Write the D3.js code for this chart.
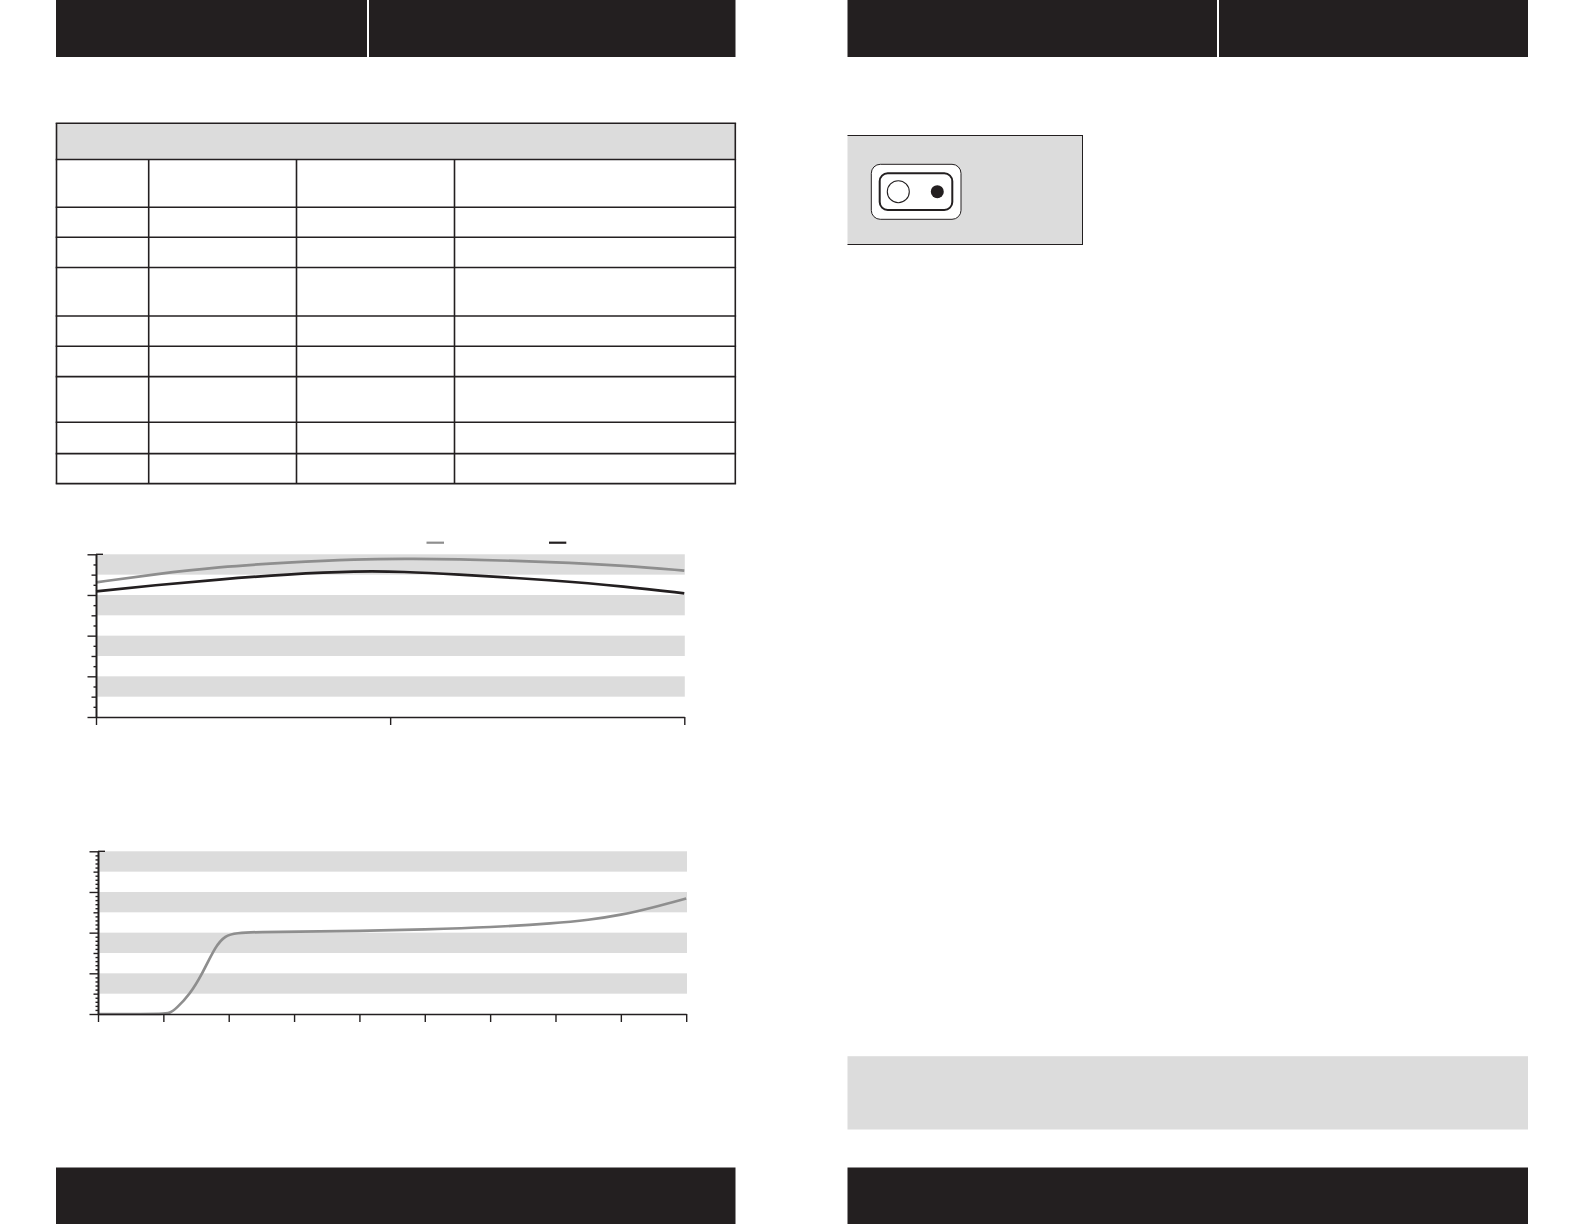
<!DOCTYPE html>
<html>
<head>
<meta charset="utf-8">
<title>Chart</title>
<script src="https://cdnjs.cloudflare.com/ajax/libs/d3/7.8.5/d3.min.js"></script>
<style>
	html, body { margin: 0; padding: 0; background: #fff; }
	svg { display: block; }
	.axis path, .axis line { stroke: #231f20; stroke-width: 1.4; }
	.curve { fill: none; stroke-width: 2.7; stroke-linejoin: round; }
</style>
</head>
<body>
<svg id="page" width="1584" height="1224"></svg>
<script>
// upper chart
const topX = [0, 0.2, 0.415, 0.65, 0.89, 1.05, 1.2, 1.56, 1.8, 2];
const topGrey = [33.1, 35.1, 36.9, 38, 38.8, 38.9, 38.9, 38.1, 37.2, 36];
const topBlack = [30.9, 32.4, 33.8, 35.1, 35.9, 35.7, 35.2, 33.6, 32.1, 30.4];
const topXTicks = [0, 1, 2];

// lower chart
const lowX = [0, 0.5, 1, 1.1, 1.2, 1.4, 1.6, 1.8, 1.95, 2.1, 2.5, 3, 4, 5, 6, 7, 7.5, 8, 8.5, 9];
const lowGrey = [0, 0, 0, 0.2, 1.4, 4.7, 10, 16.8, 19.3, 19.9, 20.2, 20.2, 20.4, 20.8, 21.3, 22.3, 23.1, 24.3, 26.2, 28.4];
const lowXTicks = [0, 1, 2, 3, 4, 5, 6, 7, 8, 9];

// shared y axis
const yMajor = [0, 10, 20, 30, 40];
const yMiddle = [5, 15, 25, 35];
const topYMinor = [2.5, 7.5, 12.5, 17.5, 22.5, 27.5, 32.5, 37.5];
const lowYMinor = d3.range(0, 41).filter(v => v % 5 !== 0);
const bands = [[5, 10], [15, 20], [25, 30], [35, 40]];

const dark = '#231f20';
const grey = '#8e8e8e';
const panel = '#dcdcdc';

const svg = d3.select('#page');

function box(x0, y0, x1, y1, fill) {
	return svg.append('rect')
		.attr('x', x0)
		.attr('y', y0)
		.attr('width', x1 - x0)
		.attr('height', y1 - y0)
		.attr('fill', fill);
}

function rule(x0, y0, x1, y1, width, color = dark) {
	svg.append('line')
		.attr('x1', x0).attr('y1', y0)
		.attr('x2', x1).attr('y2', y1)
		.attr('stroke', color)
		.attr('stroke-width', width);
}

// black page bars
[[56, 367], [369, 735.5], [847.5, 1217], [1219, 1528]].forEach(d => box(d[0], 0, d[1], 57, dark));
[[56, 735.5], [847.5, 1528]].forEach(d => box(d[0], 1167.5, d[1], 1224, dark));

// empty table
const colEdges = [56.5, 148.7, 296.5, 454.5, 735.3];
const rowEdges = [123.3, 159.5, 207.3, 237.3, 267.5, 316, 346.3, 376.6, 422.3, 453.6, 483.6];
box(colEdges[0], rowEdges[0], colEdges[4], rowEdges[1], panel);
rowEdges.forEach(y => rule(colEdges[0] - 0.8, y, colEdges[4] + 0.8, y, 1.6));
colEdges.forEach((x, i) => {
	// inner columns start under the header row
	const start = (i === 0 || i === 4) ? rowEdges[0] : rowEdges[1];
	rule(x, start, x, rowEdges[10], 1.6);
});

// switch panel
box(847.5, 135.5, 1082.5, 244.5, panel);
rule(847.5, 135.5, 1083, 135.5, 1);
rule(847.5, 244.5, 1083, 244.5, 1);
rule(1082.5, 135.5, 1082.5, 244.5, 1);
svg.append('rect')
	.attr('x', 871.3).attr('y', 164.3)
	.attr('width', 89.7).attr('height', 55)
	.attr('rx', 9)
	.attr('fill', '#fff')
	.attr('stroke', dark)
	.attr('stroke-width', 1);
svg.append('rect')
	.attr('x', 879.7).attr('y', 173.3)
	.attr('width', 72.6).attr('height', 36.7)
	.attr('rx', 8)
	.attr('fill', '#fff')
	.attr('stroke', dark)
	.attr('stroke-width', 2);
svg.append('circle')
	.attr('cx', 898.3).attr('cy', 191.7).attr('r', 11)
	.attr('fill', '#fff')
	.attr('stroke', dark)
	.attr('stroke-width', 1.1);
svg.append('circle')
	.attr('cx', 937.3).attr('cy', 191.7).attr('r', 6.5)
	.attr('fill', dark);

// note panel
box(847.5, 1056.2, 1528, 1129.5, panel);

function drawChart(cfg) {
	const xScale = d3.scaleLinear()
		.domain(d3.extent(cfg.xTicks))
		.range([cfg.left, cfg.right]);

	const yScale = d3.scaleLinear()
		.domain([0, 40])
		.range([cfg.bottom, cfg.top]);

	svg.append('g')
		.selectAll('rect')
		.data(bands)
		.enter()
		.append('rect')
		.attr('x', cfg.left)
		.attr('y', d => yScale(d[1]))
		.attr('width', cfg.bandRight - cfg.left)
		.attr('height', d => yScale(d[0]) - yScale(d[1]))
		.attr('fill', panel);

	const line = d3.line()
		.x(d => xScale(d[0]))
		.y(d => yScale(d[1]))
		.curve(d3.curveBasis);

	cfg.series.forEach(s => {
		svg.append('path')
			.datum(cfg.x.map((v, i) => [v, s.values[i]]))
			.attr('class', 'curve')
			.attr('stroke', s.color)
			.attr('d', line);
	});

	const yAxis = (values, size) => d3.axisLeft(yScale)
		.tickValues(values)
		.tickSize(size)
		.tickSizeOuter(0)
		.tickFormat('');

	const yGroup = (axis) => svg.append('g')
		.attr('class', 'axis')
		.attr('transform', `translate(${cfg.left}, 0)`)
		.call(axis);

	yGroup(yAxis(cfg.minor, 2.5));
	yGroup(yAxis(yMiddle, 4.5));
	yGroup(yAxis(yMajor, 8.5));

	// the top tick runs a little past the axis
	rule(cfg.left, yScale(40), cfg.left + 7, yScale(40), 1.4);

	svg.append('g')
		.attr('class', 'axis')
		.attr('transform', `translate(0, ${cfg.bottom})`)
		.call(d3.axisBottom(xScale)
			.tickValues(cfg.xTicks)
			.tickSize(8)
			.tickSizeOuter(0)
			.tickFormat(''));
}

drawChart({
	left: 96, right: 684.3, bandRight: 684.8, top: 554.3, bottom: 717,
	x: topX,
	xTicks: topXTicks,
	minor: topYMinor,
	series: [
		{ values: topGrey, color: grey },
		{ values: topBlack, color: dark }
	]
});

drawChart({
	left: 98, right: 686.2, bandRight: 687, top: 851.3, bottom: 1014,
	x: lowX,
	xTicks: lowXTicks,
	minor: lowYMinor,
	series: [
		{ values: lowGrey, color: grey }
	]
});

// legend keys, labels are blank in the source
rule(426.5, 542.7, 444, 542.7, 2.2, grey);
rule(549, 542.7, 566.3, 542.7, 2.2, dark);
</script>
</body>
</html>
